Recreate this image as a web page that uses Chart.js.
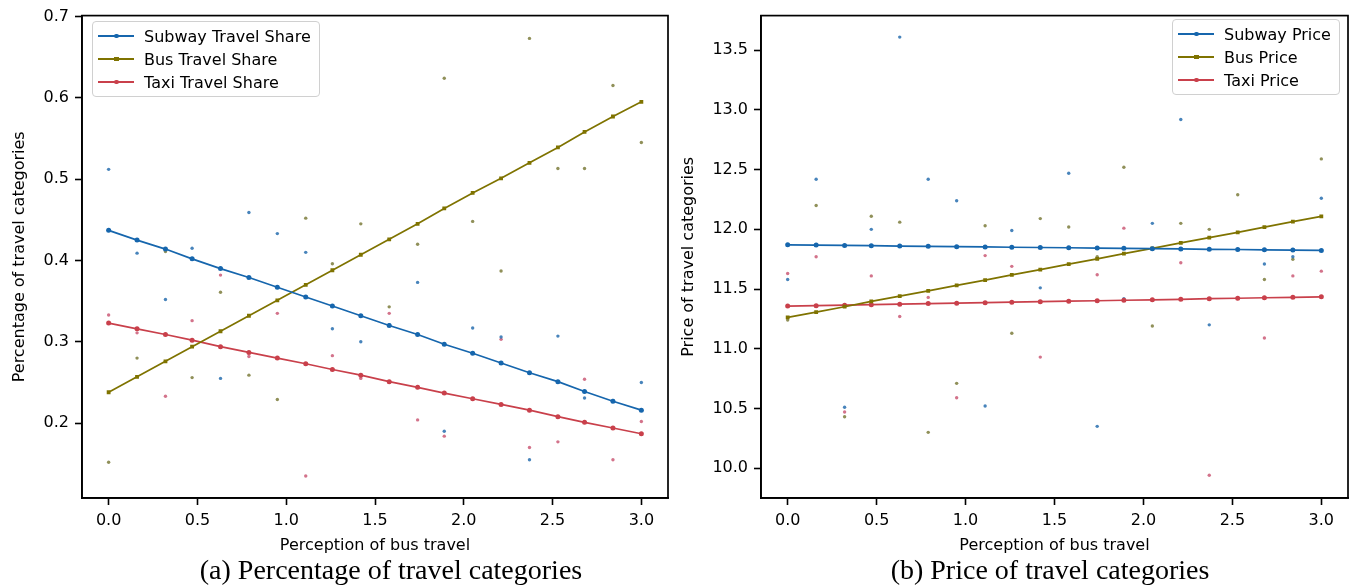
<!DOCTYPE html>
<html><head><meta charset="utf-8">
<script src="https://cdn.jsdelivr.net/npm/chart.js@4/dist/chart.umd.min.js"></script>
<style>
body{margin:0;background:#fff;width:1353px;height:588px;overflow:hidden;position:relative;font-family:"DejaVu Sans",sans-serif;}
.panel{position:absolute;top:0;height:560px;}
#pa{left:0;width:672px;}
#pb{left:672px;width:681px;}
.cap{position:absolute;font-family:"Liberation Serif",serif;font-size:28px;line-height:32px;color:#000;top:554px;white-space:nowrap;transform:translateX(-50%);}
.legend{position:absolute;border:1px solid #d0d0d0;border-radius:4px;background:rgba(255,255,255,0.9);padding:3px 6px 3px 5px;box-sizing:border-box;}
.row{height:23px;line-height:23px;font-size:16px;color:#000;white-space:nowrap;}
.sw{display:inline-block;width:36px;height:1.6px;vertical-align:middle;margin:-3px 10px 0 0;position:relative;}
.sw b{position:absolute;left:16px;top:-1.6px;width:4.5px;height:4.5px;border-radius:50%;}
</style></head>
<body>
<div class="panel" id="pa"><canvas id="ca"></canvas></div>
<div class="panel" id="pb"><canvas id="cb"></canvas></div>
<div class="legend" id="lega" style="left:92px;top:21px;width:228px;height:76px"></div>
<div class="legend" id="legb" style="left:1172px;top:19px;width:168px;height:76px"></div>
<div class="cap" style="left:391px">(a) Percentage of travel categories</div>
<div class="cap" style="left:1050px">(b) Price of travel categories</div>
<script>
// ---- data ----
const xVals = [0.00,0.16,0.32,0.47,0.63,0.79,0.95,1.11,1.26,1.42,1.58,1.74,1.89,2.05,2.21,2.37,2.53,2.68,2.84,3.00];
const xTicks = [0.0,0.5,1.0,1.5,2.0,2.5,3.0];
const yTicksA = [0.2,0.3,0.4,0.5,0.6,0.7];
const yTicksB = [10.0,10.5,11.0,11.5,12.0,12.5,13.0,13.5];

const subwayShareFit = [0.437,0.425,0.414,0.402,0.390,0.379,0.367,0.355,0.344,0.332,0.320,0.309,0.297,0.286,0.274,0.262,0.251,0.239,0.227,0.216];
const busShareFit    = [0.238,0.257,0.276,0.294,0.313,0.332,0.351,0.370,0.388,0.407,0.426,0.445,0.464,0.483,0.501,0.520,0.539,0.558,0.577,0.595];
const taxiShareFit   = [0.323,0.316,0.309,0.302,0.294,0.287,0.280,0.273,0.266,0.259,0.251,0.244,0.237,0.230,0.223,0.216,0.208,0.201,0.194,0.187];
const subwayShare = [0.512,0.409,0.352,0.415,0.255,0.459,0.433,0.410,0.316,0.300,0.321,0.373,0.190,0.317,0.306,0.155,0.307,0.231,0.228,0.250];
const busShare    = [0.152,0.280,0.411,0.256,0.361,0.259,0.229,0.452,0.396,0.445,0.343,0.420,0.624,0.448,0.387,0.673,0.513,0.513,0.615,0.545];
const taxiShare   = [0.333,0.311,0.233,0.326,0.382,0.282,0.335,0.135,0.283,0.255,0.335,0.204,0.184,0.230,0.303,0.170,0.177,0.254,0.155,0.202];

const subwayPriceFit = [11.870,11.868,11.865,11.863,11.860,11.858,11.855,11.853,11.850,11.848,11.846,11.843,11.841,11.838,11.836,11.833,11.831,11.828,11.826,11.823];
const busPriceFit    = [11.263,11.307,11.352,11.396,11.441,11.485,11.530,11.574,11.619,11.663,11.708,11.752,11.797,11.841,11.886,11.930,11.975,12.019,12.064,12.108];
const taxiPriceFit   = [11.357,11.361,11.365,11.369,11.373,11.378,11.382,11.386,11.390,11.394,11.398,11.402,11.406,11.410,11.414,11.419,11.423,11.427,11.431,11.435];
const subwayPrice = [11.58,12.42,10.51,12.00,13.61,12.42,12.24,10.52,11.99,11.51,12.47,10.35,11.42,12.05,12.92,11.20,11.83,11.71,11.77,12.26];
const busPrice    = [11.24,12.20,10.43,12.11,12.06,10.30,10.71,12.03,11.13,12.09,12.02,11.77,12.52,11.19,12.05,12.00,12.29,11.58,11.75,12.59];
const taxiPrice   = [11.63,11.77,10.47,11.61,11.27,11.43,10.59,11.78,11.69,10.93,11.40,11.62,12.01,11.41,11.72,9.94,11.42,11.09,11.61,11.65];

const legendA = ['Subway Travel Share','Bus Travel Share','Taxi Travel Share'];
const legendB = ['Subway Price','Bus Price','Taxi Price'];

// ---- styles ----
const lineColors = ['#1666ad','#7f7300','#c9404b'];
const dotColors = ['rgba(40,110,175,0.85)','rgba(125,125,60,0.85)','rgba(200,80,110,0.8)'];
const markerStyles = ['circle','rect','circle'];
const markerRadius = [2.5,2.7,2.5];

Chart.defaults.font.family = '"DejaVu Sans", sans-serif';
Chart.defaults.color = '#000';
Chart.defaults.animation = false;

const pts = ys => ys.map((y,i)=>({x:xVals[i], y}));

const framePlugin = {
  id:'frame',
  afterDraw(chart){
    const {ctx, chartArea:a} = chart;
    ctx.save(); ctx.strokeStyle='#000'; ctx.lineWidth=1.7;
    ctx.strokeRect(a.left, a.top, a.right-a.left, a.bottom-a.top);
    ctx.restore();
  }
};

function makeChart(id, fits, dots, yMin, yMax, yTicks, yTitle, yWidth, yTitlePad, padRight, padTop){
  const ds = [];
  fits.forEach((f,k)=>ds.push({data:pts(f), showLine:true, borderColor:lineColors[k], backgroundColor:lineColors[k],
    borderWidth:1.7, pointStyle:markerStyles[k], pointRadius:markerRadius[k], pointBorderWidth:0, order:0}));
  dots.forEach((d,k)=>ds.push({data:pts(d), showLine:false, backgroundColor:dotColors[k], borderWidth:0,
    pointRadius:1.7, pointBorderWidth:0, order:1}));
  return new Chart(document.getElementById(id), {
    type:'scatter',
    data:{datasets:ds},
    options:{
      responsive:true, maintainAspectRatio:false,
      layout:{padding:{left:0,right:padRight,top:padTop,bottom:0}},
      plugins:{legend:{display:false}, tooltip:{enabled:false}},
      scales:{
        x:{type:'linear', min:-0.15, max:3.15,
          afterBuildTicks:s=>{s.ticks = xTicks.map(v=>({value:v}));},
          afterFit:s=>{s.height=62;},
          ticks:{font:{size:16}, padding:6, callback:v=>Number(v).toFixed(1), maxRotation:0},
          grid:{drawOnChartArea:false, tickLength:7, tickColor:'#000', tickWidth:1.6},
          border:{color:'#000', width:1.7},
          title:{display:true, text:'Perception of bus travel', font:{size:16}, padding:{top:0,bottom:5}}
        },
        y:{type:'linear', min:yMin, max:yMax,
          afterBuildTicks:s=>{s.ticks = yTicks.map(v=>({value:v}));},
          afterFit:s=>{s.width=yWidth;},
          ticks:{font:{size:16}, padding:6, callback:v=>Number(v).toFixed(1)},
          grid:{drawOnChartArea:false, tickLength:7, tickColor:'#000', tickWidth:1.6},
          border:{color:'#000', width:1.7},
          title:{display:true, text:yTitle, font:{size:16}, padding:{top:yTitlePad,bottom:0}}
        }
      }
    },
    plugins:[framePlugin]
  });
}

makeChart('ca',[subwayShareFit,busShareFit,taxiShareFit],[subwayShare,busShare,taxiShare],0.108,0.701,yTicksA,'Percentage of travel categories',82,10,3,14);
makeChart('cb',[subwayPriceFit,busPriceFit,taxiPriceFit],[subwayPrice,busPrice,taxiPrice],9.75,13.79,yTicksB,'Price of travel categories',89,7,5,12);

function buildLegend(id, labels){
  const el = document.getElementById(id);
  labels.forEach((t,k)=>{
    const r = document.createElement('div'); r.className='row';
    const sw = document.createElement('span'); sw.className='sw'; sw.style.background=lineColors[k];
    const m = document.createElement('b'); m.style.background=lineColors[k];
    if(markerStyles[k]==='rect') m.style.borderRadius='0';
    sw.appendChild(m); r.appendChild(sw); r.appendChild(document.createTextNode(t)); el.appendChild(r);
  });
}
buildLegend('lega', legendA);
buildLegend('legb', legendB);
</script>
</body></html>
